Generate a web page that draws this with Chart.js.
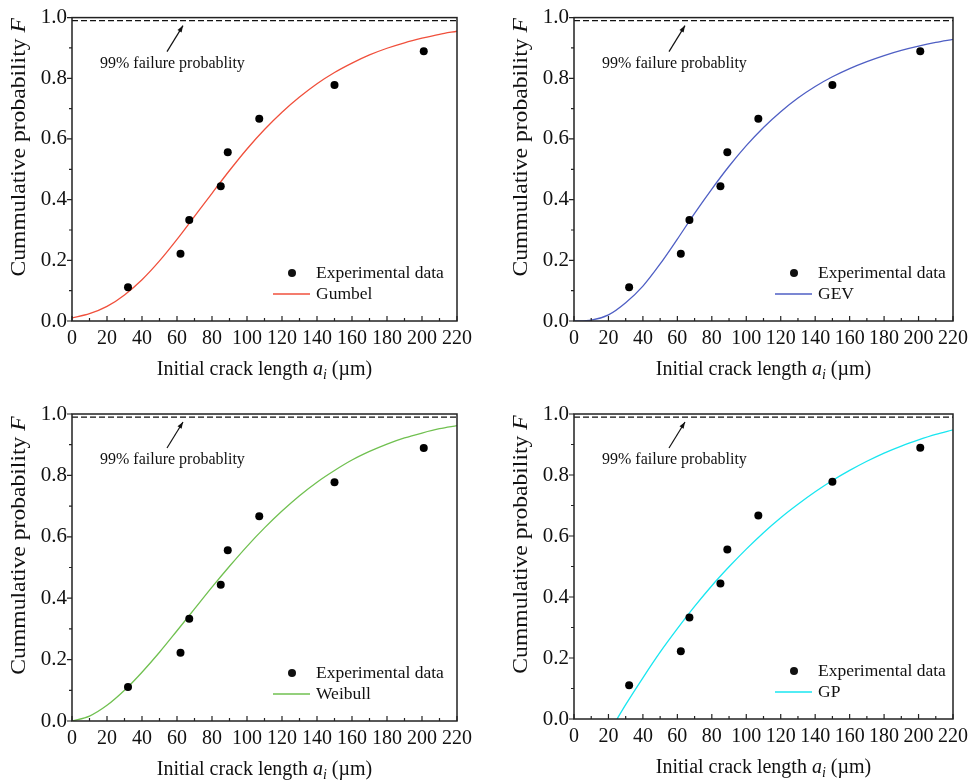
<!DOCTYPE html>
<html>
<head>
<meta charset="utf-8">
<script src="https://cdn.jsdelivr.net/npm/chart.js@4.4.1/dist/chart.umd.min.js"></script>
<style>
  body { margin: 0; background: #fff; }
  #wrap { position: relative; width: 974px; height: 784px; }
  canvas { position: absolute; }
</style>
</head>
<body>
<div id="wrap">
  <canvas id="gumbelChart" width="487" height="392" style="left:0;top:0"></canvas>
  <canvas id="gevChart" width="487" height="392" style="left:487px;top:0"></canvas>
  <canvas id="weibullChart" width="487" height="392" style="left:0;top:392px"></canvas>
  <canvas id="gpChart" width="487" height="392" style="left:487px;top:392px"></canvas>
</div>
<script>
// experimental data (median ranks)
const expX = [32, 62, 67, 85, 89, 107, 150, 201];
const expF = [0.111, 0.222, 0.333, 0.444, 0.556, 0.667, 0.778, 0.889];

// fitted curves
const curveX = [0, 10, 20, 30, 40, 50, 60, 70, 80, 90, 100, 110, 120, 130, 140, 150, 160, 170, 180, 190, 200, 210, 220];
const gumbelF = [0.010, 0.024, 0.048, 0.086, 0.136, 0.198, 0.269, 0.345, 0.421, 0.496, 0.567, 0.631, 0.688, 0.738, 0.782, 0.819, 0.850, 0.877, 0.899, 0.917, 0.932, 0.945, 0.955];
const gevF = [0.000, 0.003, 0.020, 0.060, 0.115, 0.188, 0.270, 0.355, 0.435, 0.510, 0.578, 0.638, 0.690, 0.735, 0.773, 0.805, 0.832, 0.855, 0.875, 0.892, 0.906, 0.918, 0.928];
const weibullF = [0.000, 0.016, 0.051, 0.100, 0.159, 0.224, 0.294, 0.365, 0.436, 0.504, 0.569, 0.629, 0.684, 0.734, 0.778, 0.816, 0.850, 0.878, 0.902, 0.922, 0.938, 0.952, 0.962];
const gpX = [25, 30, 40, 50, 60, 70, 80, 90, 100, 110, 120, 130, 140, 150, 160, 170, 180, 190, 200, 210, 220];
const gpF = [0.000, 0.047, 0.135, 0.219, 0.296, 0.369, 0.437, 0.499, 0.557, 0.611, 0.660, 0.704, 0.745, 0.782, 0.815, 0.845, 0.872, 0.895, 0.915, 0.933, 0.948];

const threshold = 0.99;
const xTicks = [0, 20, 40, 60, 80, 100, 120, 140, 160, 180, 200, 220];
const yTicks = [0.0, 0.2, 0.4, 0.6, 0.8, 1.0];

const FONT = '"Liberation Serif", "Times New Roman", serif';

const toPoints = (xs, ys) => xs.map((x, i) => ({ x: x, y: ys[i] }));

// frame, ticks, titles, legend and the 99% note
const decorations = {
    id: 'decorations',
    afterDraw(chart) {
        const ctx = chart.ctx;
        const { left, right, top, bottom } = chart.chartArea;
        const xs = chart.scales.x, ys = chart.scales.y;
        const fit = chart.options.fitInfo;
        ctx.save();

        // box
        ctx.strokeStyle = '#222';
        ctx.lineWidth = 1.5;
        ctx.strokeRect(left, top, right - left, bottom - top);

        // x ticks point inward, y ticks outward
        ctx.lineWidth = 1.2;
        ctx.beginPath();
        for (let v = 0; v <= 220; v += 10) {
            const px = xs.getPixelForValue(v);
            const len = v % 20 === 0 ? 5 : 3;
            ctx.moveTo(px, bottom);
            ctx.lineTo(px, bottom - len);
        }
        for (let k = 0; k <= 10; k++) {
            const py = ys.getPixelForValue(k / 10);
            const len = k % 2 === 0 ? 5 : 3;
            ctx.moveTo(left, py);
            ctx.lineTo(left - len, py);
        }
        ctx.stroke();

        ctx.fillStyle = '#111';
        ctx.textBaseline = 'middle';

        // x title: Initial crack length a_i (µm)
        const big = '20px ' + FONT, bigIt = 'italic 20px ' + FONT, sub = 'italic 14px ' + FONT;
        const parts = [
            ['Initial crack length ', big, 0],
            ['a', bigIt, 0],
            ['i', sub, 5],
            [' (\u00b5m)', big, 0]
        ];
        let total = 0;
        parts.forEach(p => { ctx.font = p[1]; total += ctx.measureText(p[0]).width; });
        let cx = (left + right) / 2 - total / 2;
        const ty = bottom + 49;
        ctx.textAlign = 'left';
        parts.forEach(p => {
            ctx.font = p[1];
            ctx.fillText(p[0], cx, ty + p[2]);
            cx += ctx.measureText(p[0]).width;
        });

        // y title (the original figure is a bit stretched along this text)
        ctx.save();
        ctx.translate(left - 52, (top + bottom) / 2 - 22);
        ctx.rotate(-Math.PI / 2);
        ctx.scale(1.18, 1);
        const yParts = [['Cummulative probability ', big], ['F', bigIt]];
        let yTotal = 0;
        yParts.forEach(p => { ctx.font = p[1]; yTotal += ctx.measureText(p[0]).width; });
        let yx = -yTotal / 2;
        yParts.forEach(p => {
            ctx.font = p[1];
            ctx.fillText(p[0], yx, 0);
            yx += ctx.measureText(p[0]).width;
        });
        ctx.restore();

        // legend
        ctx.font = '17.5px ' + FONT;
        ctx.beginPath();
        ctx.arc(left + 220, bottom - 48, 4, 0, Math.PI * 2);
        ctx.fill();
        ctx.fillText('Experimental data', left + 244, bottom - 48);
        ctx.strokeStyle = fit.color;
        ctx.lineWidth = 1.3;
        ctx.beginPath();
        ctx.moveTo(left + 201, bottom - 27);
        ctx.lineTo(left + 238, bottom - 27);
        ctx.stroke();
        ctx.fillText(fit.name, left + 244, bottom - 27);

        // 99% note with arrow
        ctx.font = '16px ' + FONT;
        ctx.fillText('99% failure probablity', left + 28, top + 46);
        const ax0 = left + 95, ay0 = top + 34, ax1 = left + 111, ay1 = top + 8;
        ctx.strokeStyle = '#111';
        ctx.lineWidth = 1.2;
        ctx.beginPath();
        ctx.moveTo(ax0, ay0);
        ctx.lineTo(ax1, ay1);
        ctx.stroke();
        const ang = Math.atan2(ay1 - ay0, ax1 - ax0);
        ctx.beginPath();
        ctx.moveTo(ax1, ay1);
        ctx.lineTo(ax1 - 7 * Math.cos(ang - 0.35), ay1 - 7 * Math.sin(ang - 0.35));
        ctx.lineTo(ax1 - 7 * Math.cos(ang + 0.35), ay1 - 7 * Math.sin(ang + 0.35));
        ctx.closePath();
        ctx.fill();

        ctx.restore();
    }
};

function createChart(id, name, color, fx, fy, layout) {
    const ctx = document.getElementById(id).getContext('2d');
    return new Chart(ctx, {
        type: 'scatter',
        data: {
            datasets: [
                {
                    label: 'Experimental data',
                    data: toPoints(expX, expF),
                    pointRadius: 4,
                    pointBackgroundColor: '#000',
                    pointBorderWidth: 0,
                    showLine: false
                },
                {
                    label: name,
                    type: 'line',
                    data: toPoints(fx, fy),
                    borderColor: color,
                    borderWidth: 1.3,
                    pointRadius: 0,
                    cubicInterpolationMode: 'monotone',
                    fill: false
                },
                {
                    label: '99%',
                    type: 'line',
                    data: [{ x: 0, y: threshold }, { x: 220, y: threshold }],
                    borderColor: '#111',
                    borderWidth: 1.2,
                    borderDash: [6, 3],
                    pointRadius: 0,
                    fill: false
                }
            ]
        },
        options: {
            responsive: false,
            animation: false,
            devicePixelRatio: 1,
            fitInfo: { name: name, color: color },
            layout: { padding: { top: layout.top, right: layout.right, left: 0, bottom: 0 } },
            plugins: { legend: { display: false }, tooltip: { enabled: false } },
            scales: {
                x: {
                    type: 'linear',
                    min: 0,
                    max: 220,
                    afterBuildTicks: s => { s.ticks = xTicks.map(v => ({ value: v })); },
                    afterFit: s => { s.height = layout.xH; },
                    grid: { display: false, drawTicks: false },
                    border: { display: false },
                    ticks: { color: '#111', padding: 6, font: { family: FONT, size: 20 }, maxRotation: 0, autoSkip: false }
                },
                y: {
                    min: 0,
                    max: 1,
                    afterBuildTicks: s => { s.ticks = yTicks.map(v => ({ value: v })); },
                    afterFit: s => { s.width = layout.yW; },
                    grid: { display: false, drawTicks: false },
                    border: { display: false },
                    ticks: { color: '#111', padding: 5, font: { family: FONT, size: 21 }, callback: v => v.toFixed(1) }
                }
            }
        },
        plugins: [decorations]
    });
}

createChart('gumbelChart', 'Gumbel', '#f0503c', curveX, gumbelF, { top: 15, right: 30, yW: 72, xH: 71 });
createChart('gevChart', 'GEV', '#4f5fc4', curveX, gevF, { top: 15, right: 16, yW: 87, xH: 71 });
createChart('weibullChart', 'Weibull', '#70c050', curveX, weibullF, { top: 22, right: 30, yW: 72, xH: 63 });
createChart('gpChart', 'GP', '#18e6f0', gpX, gpF, { top: 22, right: 19, yW: 87, xH: 65 });
</script>
</body>
</html>
